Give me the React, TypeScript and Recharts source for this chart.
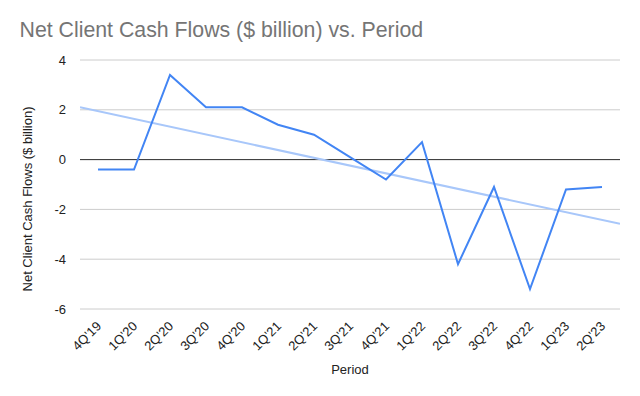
import React from "react";
import { ComposedChart, Line, XAxis, YAxis, CartesianGrid, ReferenceLine } from "recharts";

const periods = ["4Q'19", "1Q'20", "2Q'20", "3Q'20", "4Q'20", "1Q'21", "2Q'21", "3Q'21", "4Q'21", "1Q'22", "2Q'22", "3Q'22", "4Q'22", "1Q'23", "2Q'23"];
const flows = [-0.4, -0.4, 3.4, 2.1, 2.1, 1.4, 1.0, 0.1, -0.8, 0.7, -4.2, -1.1, -5.2, -1.2, -1.1];
const trendX = [-0.5, 14.5];
const trendY = [2.1, -2.58];
const yTicks = [-6, -4, -2, 0, 2, 4];

const data = periods.map((p, i) => ({ idx: i, period: p, value: flows[i] }));
const trendData = trendX.map((x, i) => ({ idx: x, trend: trendY[i] }));

const FONT = "'Liberation Sans', Arial, sans-serif";

const XTick = (props: any) => {
  const { x, y, payload } = props;
  return (
    <g transform={`translate(${x + 4},${y + 10})`}>
      <text x={0} y={0} textAnchor="end" transform="rotate(-45)" fill="#222" fontSize={13} fontFamily={FONT}>
        {periods[payload.value]}
      </text>
    </g>
  );
};

export default function App() {
  return (
    <div style={{ position: "absolute", left: 0, top: 0, width: 640, height: 396, background: "#fff" }}>
      <svg width={640} height={396} style={{ position: "absolute", left: 0, top: 0 }}>
        <text x={19.5} y={37} fontSize={21.3} fill="#757575" fontFamily={FONT}>
          Net Client Cash Flows ($ billion) vs. Period
        </text>
        <text x={350} y={374} textAnchor="middle" fontSize={13} fill="#222" fontFamily={FONT}>
          Period
        </text>
        <text x={32} y={199} textAnchor="middle" transform="rotate(-90 32 199)" fontSize={13} fill="#222" fontFamily={FONT}>
          Net Client Cash Flows ($ billion)
        </text>
      </svg>
      <div style={{ position: "absolute", left: 0, top: 0 }}>
        <ComposedChart width={640} height={396} data={data} margin={{ top: 60, right: 20, bottom: 27, left: 30 }}>
          <CartesianGrid vertical={false} stroke="#cccccc" strokeWidth={1} />
          <XAxis
            type="number"
            dataKey="idx"
            domain={[-0.5, 14.5]}
            ticks={periods.map((_, i) => i)}
            interval={0}
            axisLine={false}
            tickLine={false}
            tick={<XTick />}
            height={60}
            allowDataOverflow
          />
          <YAxis
            domain={[-6, 4]}
            ticks={yTicks}
            axisLine={false}
            tickLine={false}
            width={50}
            tickMargin={8}
            tick={{ fill: "#222", fontSize: 13, fontFamily: FONT }}
          />
          <ReferenceLine y={0} stroke="#333" strokeWidth={1} />
          <Line
            data={trendData}
            dataKey="trend"
            type="linear"
            stroke="#a8c7fa"
            strokeWidth={2}
            dot={false}
            isAnimationActive={false}
          />
          <Line
            dataKey="value"
            type="linear"
            stroke="#4285f4"
            strokeWidth={2}
            dot={false}
            isAnimationActive={false}
          />
        </ComposedChart>
      </div>
    </div>
  );
}
